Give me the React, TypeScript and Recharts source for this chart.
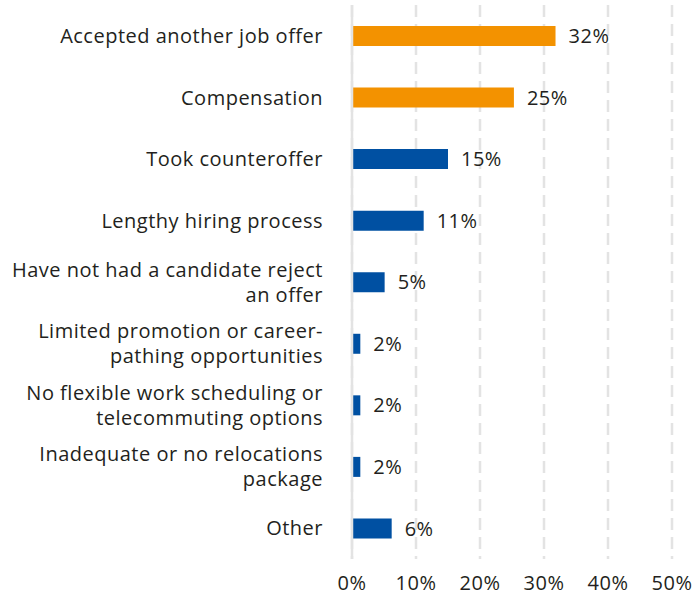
import { Bar, BarChart, CartesianGrid, Cell, LabelList, ReferenceLine, XAxis, YAxis } from 'recharts'

const categories = [
  'Accepted another job offer',
  'Compensation',
  'Took counteroffer',
  'Lengthy hiring process',
  'Have not had a candidate reject\nan offer',
  'Limited promotion or career-\npathing opportunities',
  'No flexible work scheduling or\ntelecommuting options',
  'Inadequate or no relocations\npackage',
  'Other',
]
// bar lengths as drawn (the small ones are shorter than their rounded labels)
const values = [31.8, 25.3, 15, 11.2, 5.1, 1.3, 1.3, 1.3, 6.2]
const valueLabels = ['32%', '25%', '15%', '11%', '5%', '2%', '2%', '2%', '6%']
const highlighted = [true, true, false, false, false, false, false, false, false]
const xTicks = [0, 10, 20, 30, 40, 50]

const ORANGE = '#f39200'
const BLUE = '#0050a2'
const TEXT = '#231f20'
const FONT = '"Open Sans", "Noto Sans", sans-serif'
const FS = 20
const LS = 0.5

const data = categories.map((name, i) => ({
  name,
  value: values[i],
  label: valueLabels[i],
  hi: highlighted[i],
}))

function CategoryTick({ x, y, payload }: any) {
  const lines = String(payload.value).split('\n')
  const lh = 25
  const start = -((lines.length - 1) * lh) / 2
  return (
    <text
      x={x - 21}
      y={y}
      textAnchor="end"
      fill={TEXT}
      fontSize={FS}
      fontFamily={FONT}
      letterSpacing={LS}
    >
      {lines.map((l, i) => (
        <tspan key={i} x={x - 21} y={y + start + i * lh} dy="0.36em">
          {l}
        </tspan>
      ))}
    </text>
  )
}

export default function App() {
  return (
    <div style={{ position: 'absolute', left: 0, top: 0, background: '#fff' }}>
      <BarChart
        width={696}
        height={598}
        data={data}
        layout="vertical"
        margin={{ top: 5, right: 24, left: 0, bottom: 0 }}
        barCategoryGap={0}
      >
        <CartesianGrid
          horizontal={false}
          vertical
          stroke="#e3e3e3"
          strokeWidth={2.5}
          strokeDasharray="12 7"
        />
        <XAxis
          type="number"
          domain={[0, 50]}
          ticks={xTicks}
          tickFormatter={(v: number) => `${v}%`}
          axisLine={false}
          tickLine={false}
          height={39}
          tick={{ fill: TEXT, fontSize: FS, fontFamily: FONT, letterSpacing: LS }}
          tickMargin={11}
          interval={0}
        />
        <YAxis
          type="category"
          dataKey="name"
          width={352}
          axisLine={false}
          tickLine={false}
          tick={<CategoryTick />}
          interval={0}
        />
        <ReferenceLine x={0} stroke="#e3e3e3" strokeWidth={2.5} />
        <Bar dataKey="value" barSize={20} isAnimationActive={false}>
          {data.map((d, i) => (
            <Cell key={i} fill={d.hi ? ORANGE : BLUE} />
          ))}
          <LabelList
            dataKey="label"
            position="right"
            offset={13}
            fill={TEXT}
            fontSize={FS}
            fontFamily={FONT}
            letterSpacing={LS}
          />
        </Bar>
      </BarChart>
    </div>
  )
}
